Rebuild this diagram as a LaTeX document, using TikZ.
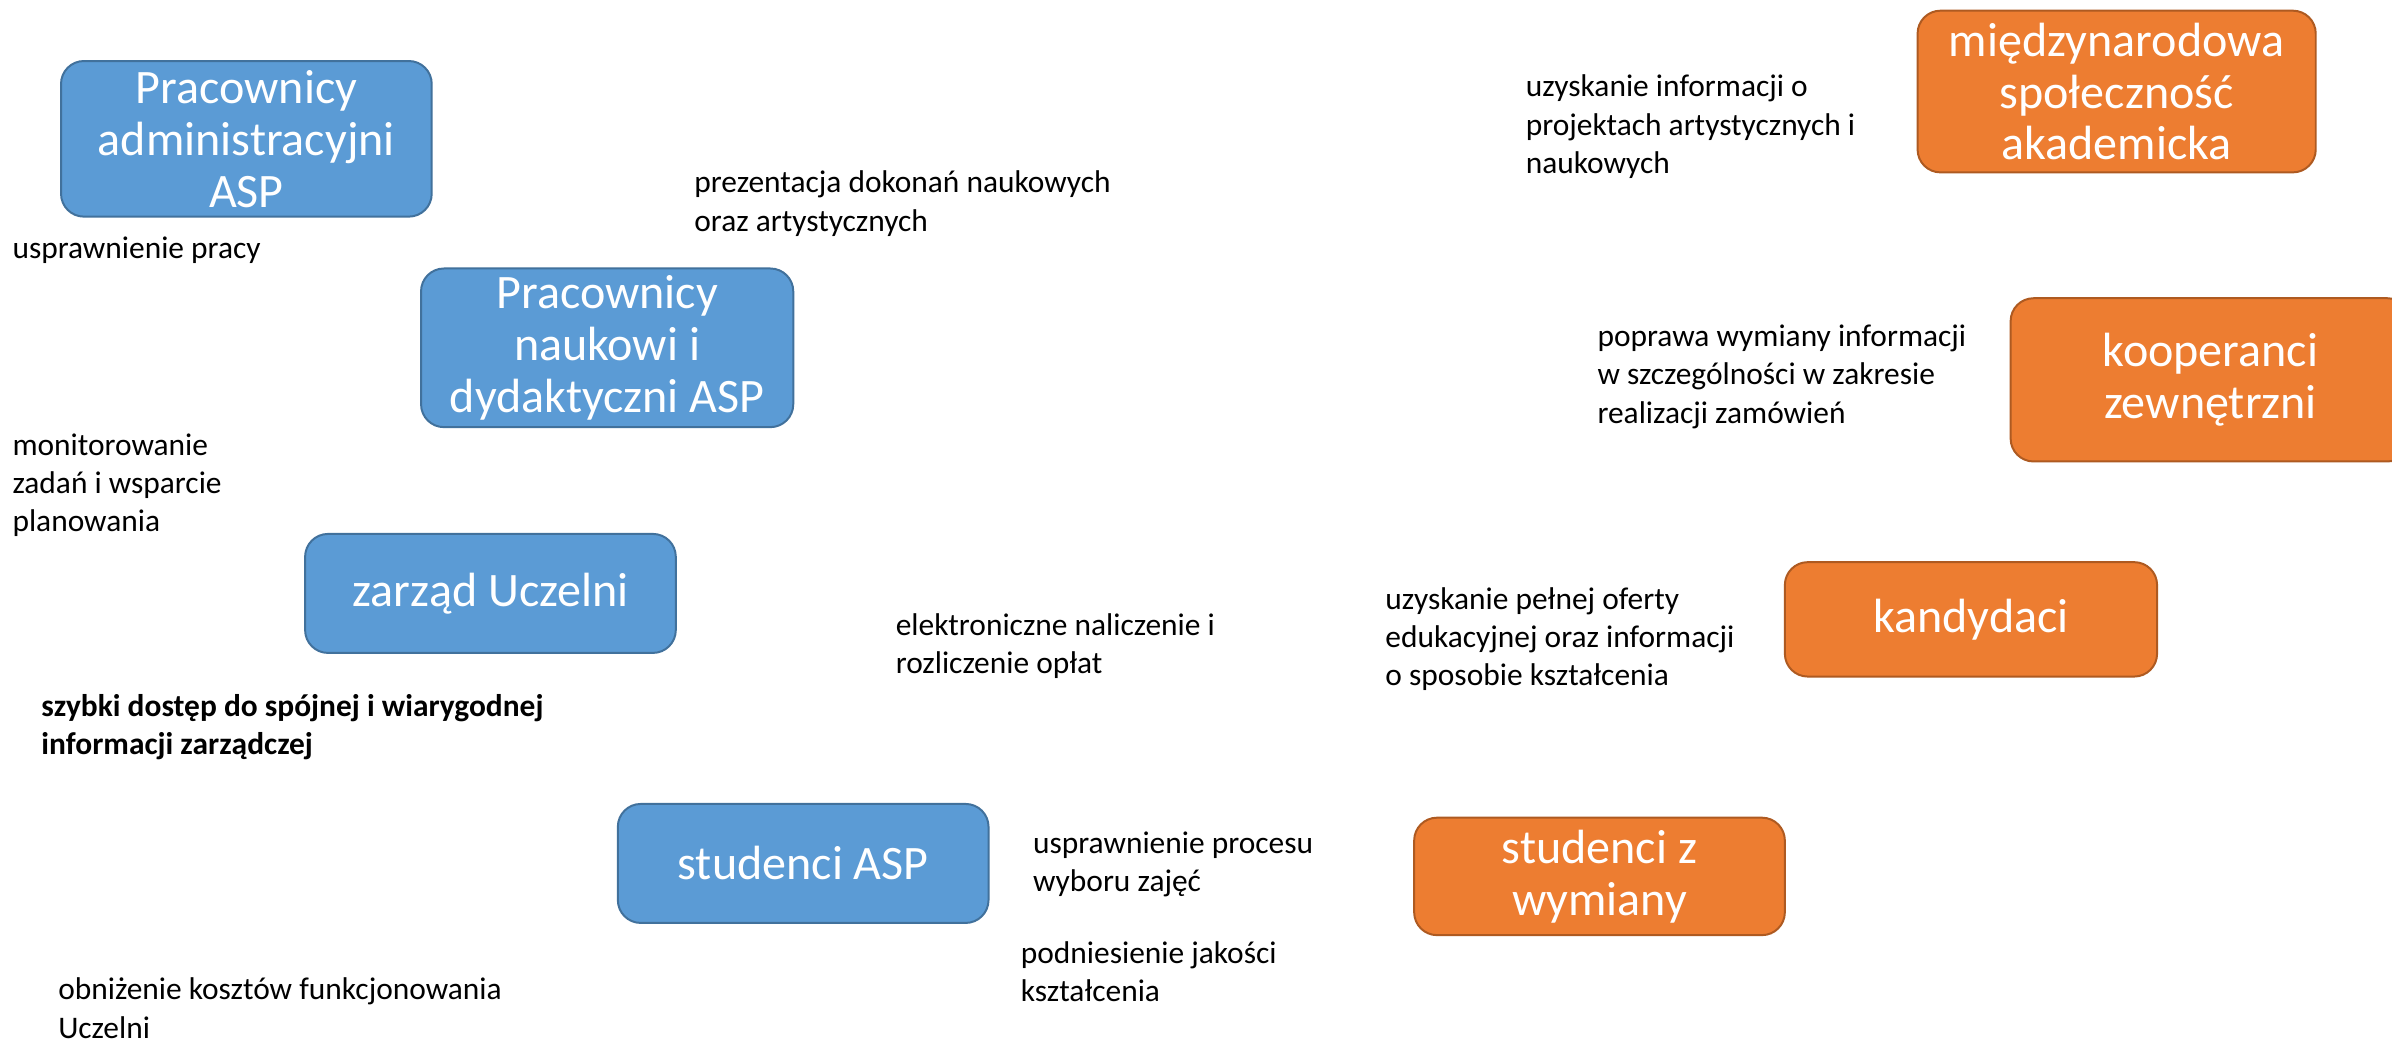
\documentclass[tikz,border=0pt]{standalone}
\usepackage{fontspec}
\setmainfont{Carlito}
\definecolor{bfill}{HTML}{5B9BD5}
\definecolor{bline}{HTML}{41719C}
\definecolor{ofill}{HTML}{ED7D31}
\definecolor{oline}{HTML}{AE5A21}
\tikzset{
  box/.style={rounded corners=15pt, line width=1.3pt, inner sep=0pt, text=white,
    align=center, font=\fontsize{31.5}{34}\selectfont},
  bluebox/.style={box, fill=bfill, draw=bline},
  orangebox/.style={box, fill=ofill, draw=oline},
  lbl/.style={anchor=north west, inner sep=0pt, align=left, text=black,
    font=\fontsize{20.6}{25}\selectfont},
}
\begin{document}
\begin{tikzpicture}[x=1pt,y=-1pt]
\useasboundingbox[fill=white] (0,0) rectangle (1568,682);
% blue boxes
\node[bluebox, minimum width=243pt, minimum height=102pt] (admin) at (161.5,91) {Pracownicy\\administracyjni\\ASP};
\node[bluebox, minimum width=244pt, minimum height=104pt] (nauk) at (398,228) {Pracownicy\\naukowi i\\dydaktyczni ASP};
\node[bluebox, minimum width=243pt, minimum height=78pt] (zarzad) at (321.5,389) {zarząd Uczelni};
\node[bluebox, minimum width=243pt, minimum height=78pt] (stud) at (526.5,566) {studenci ASP};
% orange boxes
\node[orangebox, minimum width=261pt, minimum height=106pt] (miedzy) at (1387.5,60) {międzynarodowa\\społeczność\\akademicka};
\node[orangebox, minimum width=262pt, minimum height=107pt] (koop) at (1449,249) {kooperanci\\zewnętrzni};
\node[orangebox, minimum width=244pt, minimum height=75pt] (kand) at (1292,406) {kandydaci};
\node[orangebox, minimum width=243pt, minimum height=77pt] (wym) at (1048.5,574.5) {studenci z\\wymiany};
% labels
\node[lbl] (t1) at (8,155) {usprawnienie pracy};
\node[lbl] (t2) at (455,112) {prezentacja dokonań naukowych\\oraz artystycznych};
\node[lbl] (t3) at (1000,49) {uzyskanie informacji o\\projektach artystycznych i\\naukowych};
\node[lbl] (t4) at (1047,213) {poprawa wymiany informacji\\w szczególności w zakresie\\realizacji zamówień};
\node[lbl] (t5) at (8,284) {monitorowanie\\zadań i wsparcie\\planowania};
\node[lbl] (t6) at (908,385) {uzyskanie pełnej oferty\\edukacyjnej oraz informacji\\o sposobie kształcenia};
\node[lbl] (t7) at (587,402) {elektroniczne naliczenie i\\rozliczenie opłat};
\node[lbl, font=\fontsize{20.6}{25}\selectfont\bfseries] (t8) at (27,455) {szybki dostęp do spójnej i wiarygodnej\\informacji zarządczej};
\node[lbl] (t9) at (677,545) {usprawnienie procesu\\wyboru zajęć};
\node[lbl] (t10) at (669,617) {podniesienie jakości\\kształcenia};
\node[lbl] (t11) at (38,641) {obniżenie kosztów funkcjonowania\\Uczelni};
\end{tikzpicture}
\end{document}
